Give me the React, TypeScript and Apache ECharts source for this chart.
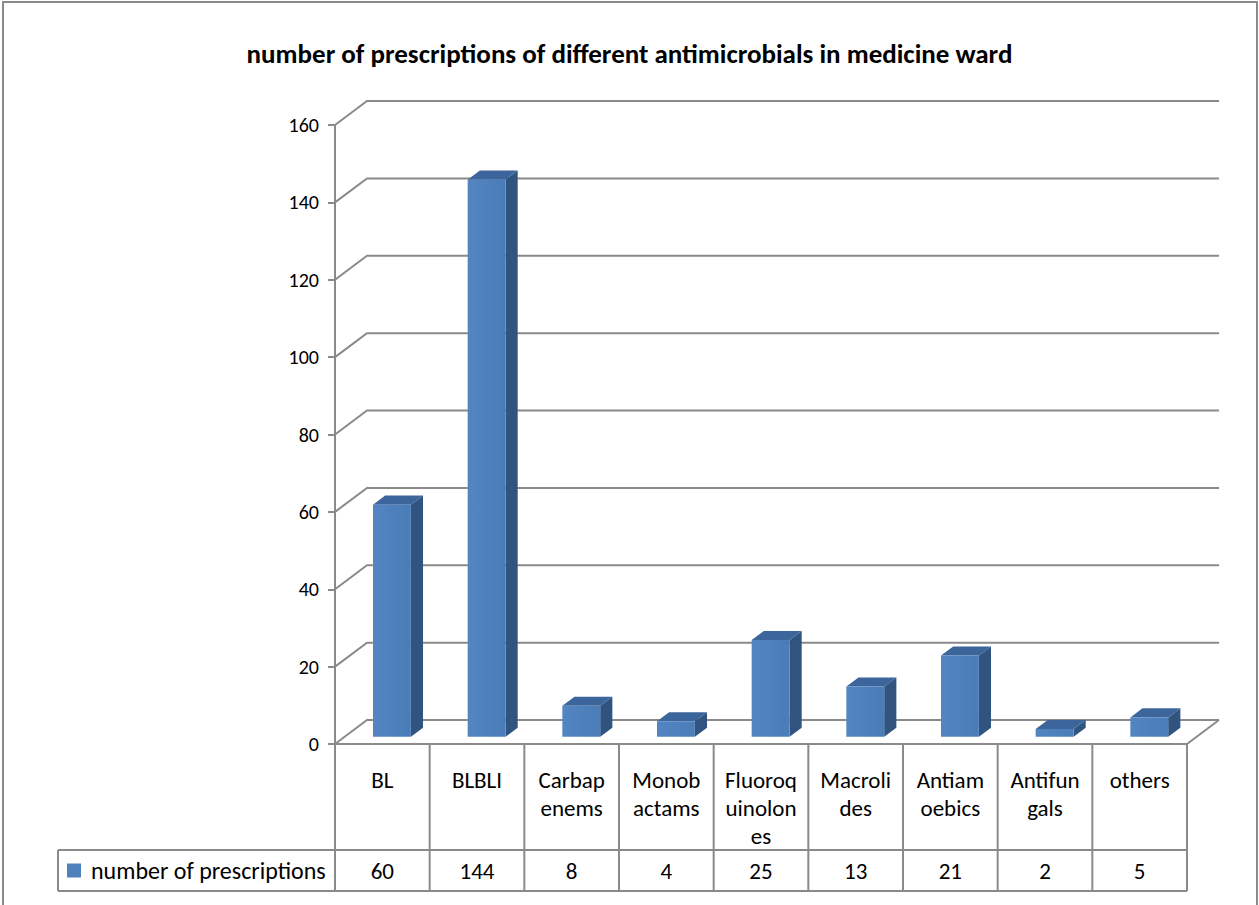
import React, { useEffect, useRef } from "react";
import * as echarts from "echarts";

const title = "number of prescriptions of different antimicrobials in medicine ward";
const seriesName = "number of prescriptions";
const categories = ["BL", "BLBLI", "Carbapenems", "Monobactams", "Fluoroquinolones", "Macrolides", "Antiamoebics", "Antifungals", "others"];
const categoryLabels = ["BL", "BLBLI", "Carbap\nenems", "Monob\nactams", "Fluoroq\nuinolon\nes", "Macroli\ndes", "Antiam\noebics", "Antifun\ngals", "others"];
const values = [60, 144, 8, 4, 25, 13, 21, 2, 5];
const yTicks = [0, 20, 40, 60, 80, 100, 120, 140, 160];

const FONT = "Carlito, Lato, sans-serif";
const GRAY = "#8a8a8a";
const DX = 32;
const DY = 24;
const ROW1 = 106;
const ROW2 = 41;
const LEGEND_LEFT = 58;

export default function App() {
  const ref = useRef<HTMLDivElement>(null);
  useEffect(() => {
    const chart = echarts.init(ref.current!, null, { renderer: "svg" });
    const option: any = {
      animation: false,
      backgroundColor: "#ffffff",
      title: {
        text: title,
        left: "center",
        top: 35,
        textStyle: { fontFamily: FONT, fontSize: 27, fontWeight: "bold", color: "#000" },
      },
      graphic: [
        {
          type: "rect",
          shape: { x: 3, y: 2, width: 1254, height: 920 },
          style: { fill: "none", stroke: GRAY, lineWidth: 2 },
          silent: true,
        },
      ],
      grid: { left: 335, right: 72, top: 125, bottom: 161, containLabel: false },
      xAxis: {
        type: "category",
        data: categories,
        axisLine: { show: false },
        axisTick: { show: false },
        axisLabel: { show: false },
        splitLine: { show: false },
      },
      yAxis: {
        type: "value",
        min: 0,
        max: 160,
        interval: 20,
        axisLine: { show: true, lineStyle: { color: GRAY, width: 2 } },
        axisTick: { show: true, length: 7, lineStyle: { color: GRAY, width: 2 } },
        axisLabel: { color: "#000", fontFamily: FONT, fontSize: 20, margin: 16 },
        splitLine: { show: false },
      },
      series: [
        {
          type: "custom",
          name: "grid",
          silent: true,
          z: 1,
          data: yTicks.map((t) => [0, t]),
          renderItem: (params: any, api: any) => {
            const cs = params.coordSys;
            const y = api.coord([0, api.value(1)])[1];
            const x0 = cs.x;
            const x1 = cs.x + cs.width;
            const children: any[] = [
              {
                type: "polyline",
                shape: { points: [[x0, y], [x0 + DX, y - DY], [x1 + DX, y - DY]] },
                style: { stroke: GRAY, lineWidth: 2, fill: "none" },
              },
            ];
            if (api.value(1) === 0) {
              children.push({
                type: "line",
                shape: { x1: x1, y1: y, x2: x1 + DX, y2: y - DY },
                style: { stroke: GRAY, lineWidth: 2 },
              });
            }
            return { type: "group", children };
          },
        },
        {
          type: "custom",
          name: seriesName,
          z: 3,
          data: values.map((v, i) => [i, v]),
          renderItem: (params: any, api: any) => {
            const idx = api.value(0);
            const base = api.coord([idx, 0]);
            const top = api.coord([idx, api.value(1)]);
            const cw = api.size([1, 0])[0];
            const bw = cw * 0.4;
            const f = 0.3;
            const b = 0.68;
            const fx = f * DX;
            const fy = f * DY;
            const ddx = (b - f) * DX;
            const ddy = (b - f) * DY;
            const xl = base[0] - bw / 2 + fx;
            const xr = xl + bw;
            const yb = base[1] - fy;
            const yt = top[1] - fy;
            return {
              type: "group",
              children: [
                {
                  type: "polygon",
                  shape: { points: [[xr, yt], [xr + ddx, yt - ddy], [xr + ddx, yb - ddy], [xr, yb]] },
                  style: { fill: "#30547f" },
                },
                {
                  type: "polygon",
                  shape: { points: [[xl, yt], [xr, yt], [xr + ddx, yt - ddy], [xl + ddx, yt - ddy]] },
                  style: { fill: "#3c659b" },
                },
                {
                  type: "rect",
                  shape: { x: xl, y: yt, width: bw, height: yb - yt },
                  style: {
                    fill: new echarts.graphic.LinearGradient(0, 0, 1, 0, [
                      { offset: 0, color: "#5385c2" },
                      { offset: 1, color: "#4a7cb8" },
                    ]),
                  },
                },
              ],
            };
          },
        },
        {
          type: "custom",
          name: "table",
          silent: true,
          z: 2,
          data: values.map((v, i) => [i, v]),
          renderItem: (params: any, api: any) => {
            const cs = params.coordSys;
            const idx = api.value(0);
            const c = api.coord([idx, 0]);
            const cw = api.size([1, 0])[0];
            const y0 = c[1];
            const y1 = y0 + ROW1;
            const y2 = y1 + ROW2;
            const xr = c[0] + cw / 2;
            const children: any[] = [
              {
                type: "line",
                shape: { x1: xr, y1: y0, x2: xr, y2: y2 },
                style: { stroke: GRAY, lineWidth: 2 },
              },
              {
                type: "text",
                style: {
                  text: categoryLabels[idx],
                  x: c[0],
                  y: y0 + 22,
                  align: "center",
                  verticalAlign: "top",
                  lineHeight: 28,
                  fontFamily: FONT,
                  fontSize: 23,
                  fill: "#000",
                },
              },
              {
                type: "text",
                style: {
                  text: String(api.value(1)),
                  x: c[0],
                  y: (y1 + y2) / 2,
                  align: "center",
                  verticalAlign: "middle",
                  fontFamily: FONT,
                  fontSize: 23,
                  fill: "#000",
                },
              },
            ];
            if (idx === 0) {
              const xa = cs.x;
              const xe = cs.x + cs.width;
              children.push(
                { type: "line", shape: { x1: xa, y1: y0, x2: xe, y2: y0 }, style: { stroke: GRAY, lineWidth: 2 } },
                { type: "line", shape: { x1: LEGEND_LEFT, y1: y1, x2: xe, y2: y1 }, style: { stroke: GRAY, lineWidth: 2 } },
                { type: "line", shape: { x1: LEGEND_LEFT, y1: y2, x2: xe, y2: y2 }, style: { stroke: GRAY, lineWidth: 2 } },
                { type: "line", shape: { x1: LEGEND_LEFT, y1: y1, x2: LEGEND_LEFT, y2: y2 }, style: { stroke: GRAY, lineWidth: 2 } },
                { type: "line", shape: { x1: xa, y1: y0, x2: xa, y2: y2 }, style: { stroke: GRAY, lineWidth: 2 } },
                { type: "rect", shape: { x: 67, y: (y1 + y2) / 2 - 7, width: 14, height: 14 }, style: { fill: "#4f81bd" } },
                {
                  type: "text",
                  style: {
                    text: seriesName,
                    x: 91,
                    y: (y1 + y2) / 2,
                    align: "left",
                    verticalAlign: "middle",
                    fontFamily: FONT,
                    fontSize: 24,
                    fill: "#000",
                  },
                }
              );
            }
            return { type: "group", children };
          },
        },
      ],
    };
    chart.setOption(option);
    return () => chart.dispose();
  }, []);
  return (
    <div
      ref={ref}
      style={{ position: "fixed", left: 0, top: 0, width: 1259, height: 905 }}
    />
  );
}
